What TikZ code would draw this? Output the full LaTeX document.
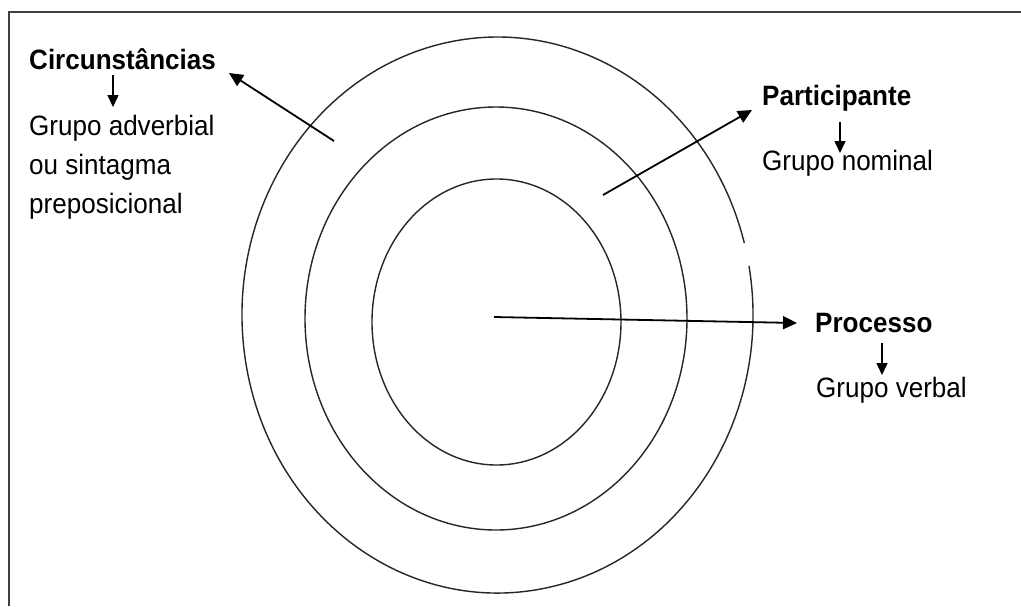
\documentclass[tikz,border=0pt]{standalone}
\usepackage{fontspec}
\setmainfont{Liberation Sans}
\usetikzlibrary{arrows.meta}
\newcommand{\narrowtxt}[1]{\scalebox{0.93}[1]{#1}}
\begin{document}
\begin{tikzpicture}[x=1pt,y=-1pt,
  txt/.style={inner sep=0pt,anchor=base west,font=\fontsize{28}{39}\selectfont},
  bold/.style={txt,font=\fontsize{28}{39}\selectfont\bfseries},
  ring/.style={line width=1.4pt,black!85},
  bigarrow/.style={line width=1.8pt,-{Triangle[length=14pt,width=13pt]}},
  smallarrow/.style={line width=1.6pt,-{Triangle[length=12pt,width=11pt]}}]
\useasboundingbox (0,0) rectangle (1021,606);
\fill[white] (0,0) rectangle (1021,606);
% frame
\draw[line width=2pt,black!75] (9,606) -- (9,12) -- (1021,12);
% rings
\draw[ring] (748.96,265.8) arc[start angle=-10.2,end angle=345,x radius=255.5,y radius=278];
\draw[ring] (496,318.5) ellipse [x radius=191,y radius=211.5];
\draw[ring] (496.5,322) ellipse [x radius=124.5,y radius=143];
% labels
\node[bold] (circ) at (29,69) {\narrowtxt{Circunstâncias}};
\node[txt] (adv1) at (29,135) {\narrowtxt{Grupo adverbial}};
\node[txt] (adv2) at (29,174) {\narrowtxt{ou sintagma}};
\node[txt] (adv3) at (29,213) {\narrowtxt{preposicional}};
\node[bold] (part) at (762,105) {\narrowtxt{Participante}};
\node[txt] (nom) at (762,170) {\narrowtxt{Grupo nominal}};
\node[bold] (proc) at (815,332) {\narrowtxt{Processo}};
\node[txt] (verb) at (816,397) {\narrowtxt{Grupo verbal}};
% arrow end points
\coordinate (cs) at (334,141);
\coordinate (ct) at (229,73);
\coordinate (ps) at (603,195);
\coordinate (pt) at (752,110);
\coordinate (rs) at (494,317);
\coordinate (rt) at (797,323);
\coordinate (c1) at (113,75);
\coordinate (c2) at (113,107);
\coordinate (p1) at (840,122);
\coordinate (p2) at (840,153);
\coordinate (r1) at (882,343);
\coordinate (r2) at (882,375);
% arrows
\draw[bigarrow] (cs) -- (ct);
\draw[bigarrow] (ps) -- (pt);
\draw[bigarrow] (rs) -- (rt);
\draw[smallarrow] (c1) -- (c2);
\draw[smallarrow] (p1) -- (p2);
\draw[smallarrow] (r1) -- (r2);
\end{tikzpicture}
\end{document}
